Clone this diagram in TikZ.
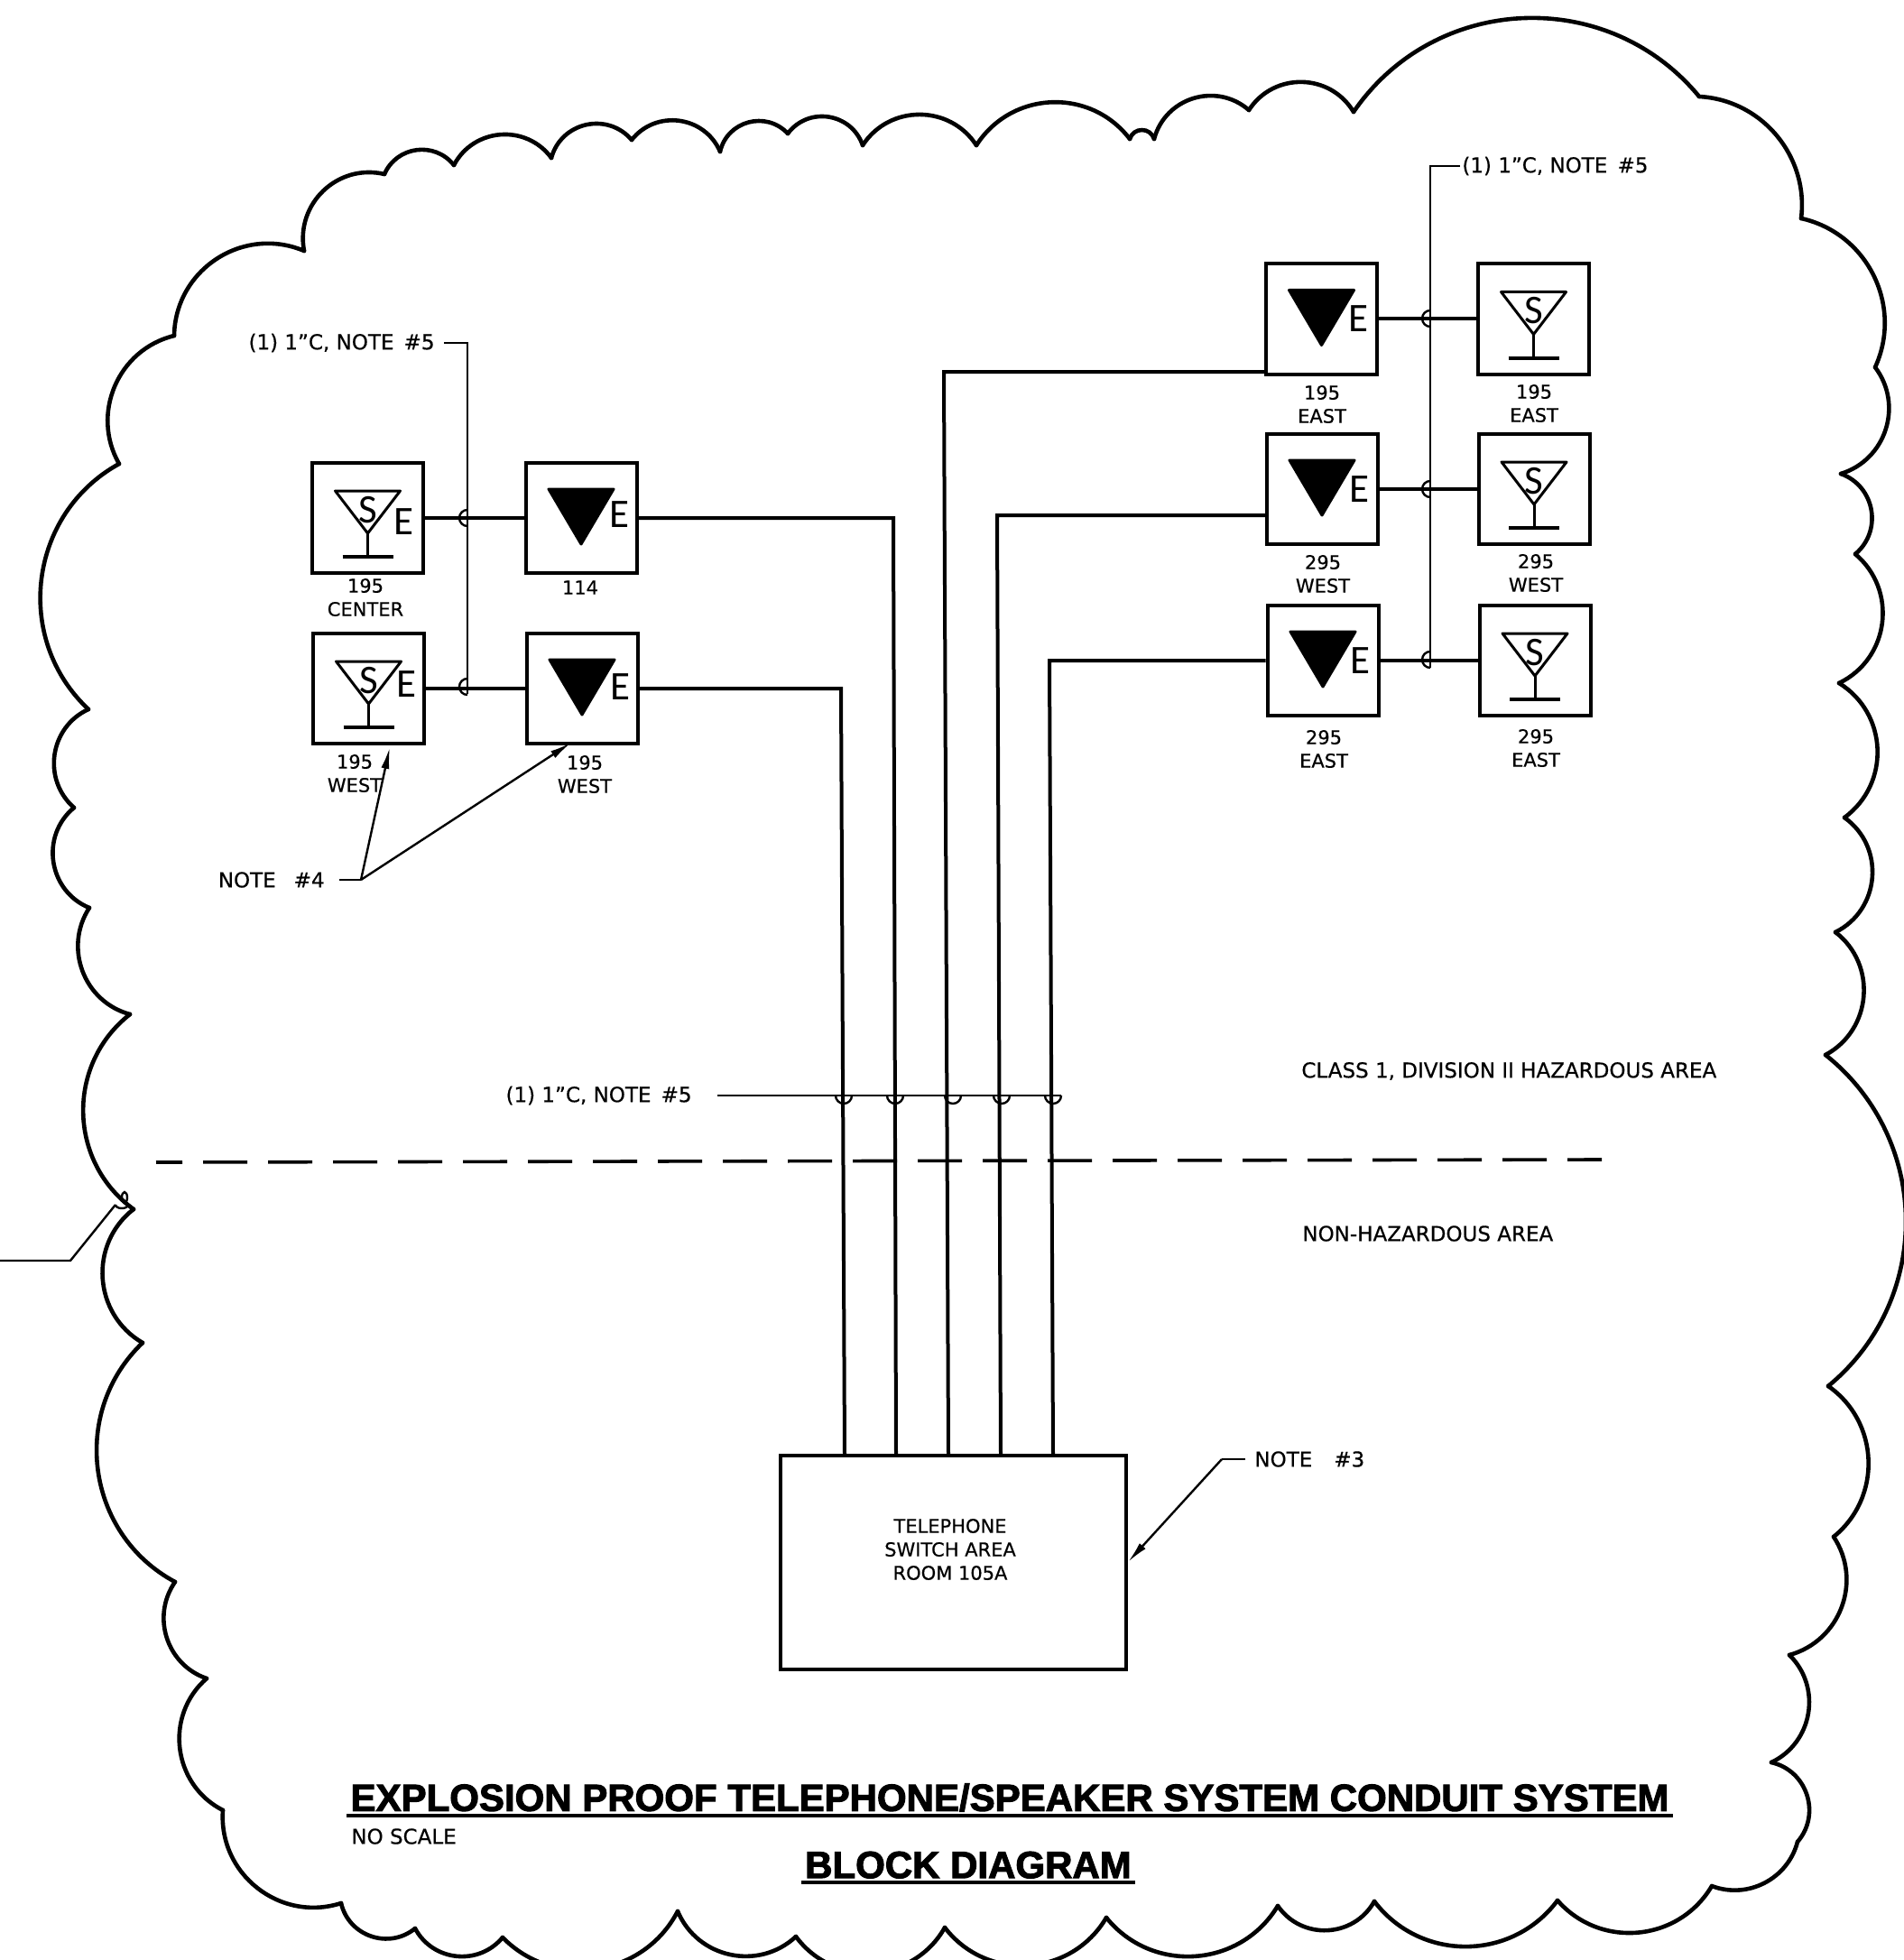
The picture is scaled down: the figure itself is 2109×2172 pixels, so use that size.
\documentclass[tikz,border=0pt]{standalone}
\usepackage{fontspec}
\usepackage{tikz}
\usetikzlibrary{arrows.meta,calc}
\setmainfont[FakeBold=0.5]{DejaVu Sans}
\newfontfamily\titlefont[FakeBold=2.5]{Liberation Sans}
\newfontfamily\glyphfont{Carlito}

\tikzset{
  cloudline/.style={black, line width=2.3pt, line cap=round},
  wire/.style={black, line width=2pt},
  thinwire/.style={black, line width=1.2pt},
  unitbox/.style={draw, line width=2pt, minimum width=61.5pt, minimum height=61pt, inner sep=0pt},
  tag/.style={font=\fontsize{10.5}{13}\selectfont, align=center, inner sep=0pt},
  note/.style={font=\fontsize{11.5}{13}\selectfont, inner sep=5pt},
  glyph/.style={font=\glyphfont\fontsize{22.5}{22.5}\selectfont, inner sep=0pt},
  titletext/.style={font=\titlefont\bfseries\fontsize{21}{21}\selectfont, inner sep=2pt, anchor=south},
  pointer/.style={thinwire, -{Latex[length=12pt,width=4.5pt]}}
}

% speaker: open glass with S
\newcommand{\speakermark}[1]{%
  \begin{scope}[shift={(#1.center)}]
    \draw[wire, line width=1.5pt, line join=round] (-36,-30) -- (36,-30) -- (0,17) -- cycle;
    \draw[wire, line width=1.5pt] (0,17) -- (0,43);
    \draw[wire] (-28,43) -- (28,43);
    \node[glyph] (#1s) at (0,-9) {S};
  \end{scope}}
% telephone: solid wedge
\newcommand{\phonemark}[1]{%
  \begin{scope}[shift={(#1.center)}]
    \fill[black, draw=black, line width=1.5pt, line join=round] (-36,-32) -- (36,-32) -- (0,29) -- cycle;
  \end{scope}}
% half round mark on a conduit crossing
\newcommand{\sidemark}[1]{\draw[thinwire] ($(#1)+(0,9)$) arc (90:270:9);}
\newcommand{\undermark}[1]{\draw[thinwire] ($(#1)+(-9,0)$) arc (180:0:9);}

\begin{document}
\begin{tikzpicture}[x=0.5pt,y=-0.5pt]
  \useasboundingbox (0,0) rectangle (2109,2172);

  % cloud outline, one arc per lobe: start / end / bend angle
  \foreach \a/\c/\t in {
    {193,372}/{337,278}/56, {337,278}/{426,193}/57, {426,193}/{503,183}/59,
    {503,183}/{611,175}/58, {611,175}/{700,155}/62, {700,155}/{798,168}/59,
    {798,168}/{873,148}/62, {873,148}/{956,161}/62, {956,161}/{1082,161}/57,
    {1082,161}/{1252,154}/55, {1252,154}/{1279,154}/73, {1279,154}/{1384,122}/58,
    {1384,122}/{1500,124}/58, {1500,124}/{1883,107}/53, {1883,107}/{1996,242}/47,
    {1996,242}/{2078,407}/51, {2078,407}/{2040,525}/55, {2040,525}/{2056,614}/60,
    {2056,614}/{2038,757}/57, {2038,757}/{2044,906}/56, {2044,906}/{2034,1033}/59,
    {2034,1033}/{2023,1169}/57, {2023,1169}/{2026,1536}/51, {2026,1536}/{2032,1703}/53,
    {2032,1703}/{1983,1834}/54, {1983,1834}/{1963,1953}/55, {1963,1953}/{1992,2041}/59,
    {1992,2041}/{1897,2090}/48, {1897,2090}/{1726,2106}/54, {1726,2106}/{1523,2107}/53,
    {1523,2107}/{1416,2112}/58, {1416,2112}/{1226,2125}/55, {1226,2125}/{1047,2136}/56,
    {1047,2136}/{882,2146}/57, {882,2146}/{751,2118}/55, {751,2118}/{557,2147}/54,
    {557,2147}/{460,2137}/56, {460,2137}/{378,2109}/58, {378,2109}/{247,2006}/56,
    {247,2006}/{229,1860}/56, {229,1860}/{194,1753}/53, {194,1753}/{158,1488}/54,
    {158,1488}/{148,1340}/56, {148,1340}/{144,1124}/53, {144,1124}/{99,1006}/54,
    {99,1006}/{82,895}/59, {82,895}/{98,786}/57, {98,786}/{132,514}/54,
    {132,514}/{193,372}/53}
  {
    \pgfmathsetmacro\loose{4/3*tan(\t/2)/sin(\t)/0.783}
    \draw[cloudline] (\a) to[bend left=\t, looseness=\loose] (\c);
  }

  % revision leader on the cloud
  \coordinate (revstart) at (0,1397);
  \coordinate (revbend) at (78,1397);
  \coordinate (revend) at (128,1335);
  \draw[thinwire] (revstart) -- (revbend) -- (revend);
  \draw[thinwire] (138,1327) ellipse (3 and 6);
  \draw[thinwire] (128,1335) arc (180:0:7 and 4);

  % left units
  \node[unitbox] (s1) at (407.5,574) {};
  \node[unitbox] (t1) at (644,574) {};
  \node[unitbox] (s2) at (408.5,763) {};
  \node[unitbox] (t2) at (645,763) {};
  % right units
  \node[unitbox] (t3) at (1464.5,353.5) {};
  \node[unitbox] (s3) at (1699.5,353.5) {};
  \node[unitbox] (t4) at (1465,542) {};
  \node[unitbox] (s4) at (1700,542) {};
  \node[unitbox] (t5) at (1466,732) {};
  \node[unitbox] (s5) at (1701,732) {};

  \speakermark{s1}
  \speakermark{s2}
  \speakermark{s3}
  \speakermark{s4}
  \speakermark{s5}
  \phonemark{t1}
  \phonemark{t2}
  \phonemark{t3}
  \phonemark{t4}
  \phonemark{t5}

  \node[glyph] (s1e) at ($(s1.center)+(40,4)$) {E};
  \node[glyph] (s2e) at ($(s2.center)+(42,-5)$) {E};
  \node[glyph] (t1e) at ($(t1.center)+(42,-4)$) {E};
  \node[glyph] (t2e) at ($(t2.center)+(42,-2)$) {E};
  \node[glyph] (t3e) at ($(t3.center)+(41,0)$) {E};
  \node[glyph] (t4e) at ($(t4.center)+(41,0)$) {E};
  \node[glyph] (t5e) at ($(t5.center)+(41,0)$) {E};

  \node[tag] (s1tag) at (405,662) {195\\CENTER};
  \node[tag] (t1tag) at (643,651) {114};
  \node[tag] (s2tag) at (393,857) {195\\WEST};
  \node[tag] (t2tag) at (648,858) {195\\WEST};
  \node[tag] (t3tag) at (1465,448) {195\\EAST};
  \node[tag] (s3tag) at (1700,447) {195\\EAST};
  \node[tag] (t4tag) at (1466,636) {295\\WEST};
  \node[tag] (s4tag) at (1702,635) {295\\WEST};
  \node[tag] (t5tag) at (1467,830) {295\\EAST};
  \node[tag] (s5tag) at (1702,829) {295\\EAST};

  % links between paired units
  \draw[wire] (s1.east) -- (t1.west);
  \draw[wire] (s2.east) -- (t2.west);
  \draw[wire] (t3.east) -- (s3.west);
  \draw[wire] (t4.east) -- (s4.west);
  \draw[wire] (t5.east) -- (s5.west);

  % switch area and the runs into it
  \node[draw, line width=1.7pt, minimum width=191.5pt, minimum height=118.5pt, inner sep=0pt] (switch) at (1056.5,1731.5) {};
  \node[tag] (switchtext) at (1053,1717) {TELEPHONE\\SWITCH AREA\\ROOM 105A};
  \coordinate (p1) at (936,1613);
  \coordinate (p2) at (993,1613);
  \coordinate (p3) at (1051,1613);
  \coordinate (p4) at (1109,1613);
  \coordinate (p5) at (1167,1613);
  \coordinate (b1) at (932,763);
  \coordinate (b2) at (990,574);
  \coordinate (b3) at (1046,412);
  \coordinate (b4) at (1105,571);
  \coordinate (b5) at (1163,732);
  \coordinate (f3) at (1403,412);
  \coordinate (f4) at (1403,571);
  \draw[wire] (t2.east) -- (b1) -- (p1);
  \draw[wire] (t1.east) -- (b2) -- (p2);
  \draw[wire] (f3) -- (b3) -- (p3);
  \draw[wire] (f4) -- (b4) -- (p4);
  \draw[wire] (t5.west) -- (b5) -- (p5);

  % conduit notes
  \node[note, anchor=east] (noteleft) at (492,380) {(1) 1"C, NOTE \,\#5};
  \coordinate (endleft) at (518,769);
  \draw[thinwire] (noteleft.east) -| (endleft);
  \sidemark{518,574}
  \sidemark{518,761}

  \node[note, anchor=west] (noteright) at (1610,184) {(1) 1"C, NOTE \,\#5};
  \coordinate (endright) at (1585,740);
  \draw[thinwire, shorten <=-4pt] (noteright.west) -| (endright);
  \sidemark{1585,353}
  \sidemark{1585,542}
  \sidemark{1585,731}

  \node[note, anchor=east] (notemid) at (777,1214) {(1) 1"C, NOTE \,\#5};
  \coordinate (endmid) at (1176,1214);
  \draw[wire, line width=1.4pt, shorten <=9pt] (notemid.east) -- (endmid);
  \undermark{935,1214}
  \undermark{992,1214}
  \undermark{1056,1214}
  \undermark{1110,1214}
  \undermark{1167,1214}

  % hazard boundary
  \coordinate (dashstart) at (173,1288);
  \coordinate (dashend) at (1775,1285);
  \draw[black, line width=1.8pt, dash pattern=on 24.5pt off 11.5pt, dash phase=10pt] (dashstart) -- (dashend);
  \node[note, anchor=west, inner sep=0pt] (classarea) at (1442,1187) {CLASS 1, DIVISION II HAZARDOUS AREA};
  \node[note, anchor=west, inner sep=0pt] (safearea) at (1443,1367) {NON-HAZARDOUS AREA};

  % note pointers
  \node[note, anchor=east] (notefour) at (370,975) {NOTE\hspace{10pt}\#4};
  \coordinate (fourbend) at (400,975);
  \coordinate (fourleft) at (432,828);
  \coordinate (fourright) at (633,823);
  \draw[thinwire, shorten <=3pt] (notefour.east) -- (fourbend);
  \draw[pointer] (fourbend) -- (fourleft);
  \draw[pointer] (fourbend) -- (fourright);

  \node[note, anchor=west] (notethree) at (1380,1617) {NOTE\hspace{12pt}\#3};
  \coordinate (threebend) at (1354,1617);
  \coordinate (threeend) at (1250,1731);
  \draw[thinwire] (notethree.west) -- (threebend);
  \draw[pointer] (threebend) -- (threeend);

  % titles
  \node[titletext] (title) at (1119,2012) {EXPLOSION PROOF TELEPHONE/SPEAKER SYSTEM CONDUIT SYSTEM};
  \draw[black, line width=2.4pt] (title.south west) -- (title.south east);
  \node[note, anchor=west, inner sep=0pt] (scale) at (389,2035) {NO SCALE};
  \node[titletext] (block) at (1073,2086) {BLOCK DIAGRAM};
  \draw[black, line width=2.4pt] (block.south west) -- (block.south east);
\end{tikzpicture}
\end{document}
